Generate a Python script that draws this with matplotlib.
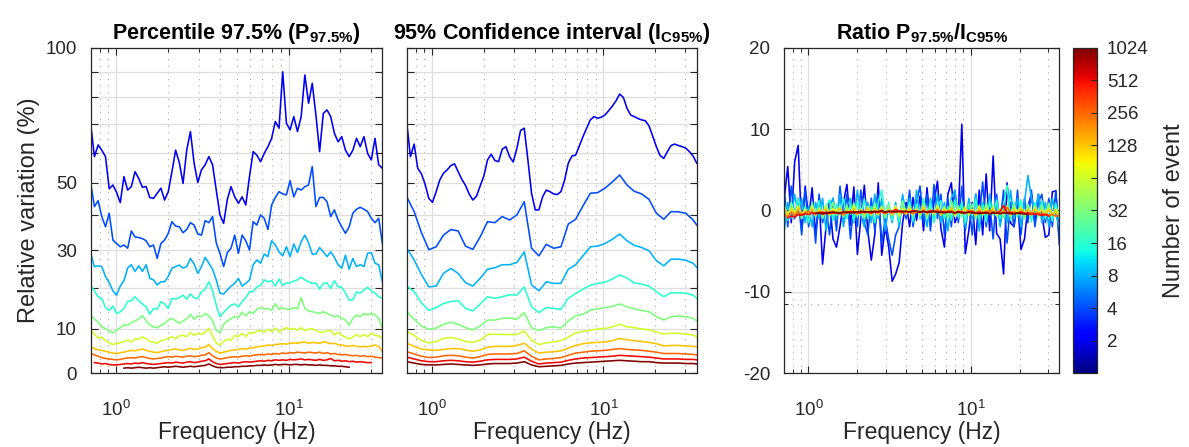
import numpy as np
import matplotlib
matplotlib.use('Agg')
import matplotlib.pyplot as plt
import matplotlib.colors as mcolors
import matplotlib.cm as cm
from matplotlib.ticker import FixedLocator, FixedFormatter, NullFormatter, LogLocator, NullLocator

plt.rcParams['font.family'] = ['Liberation Sans', 'DejaVu Sans']
plt.rcParams['mathtext.fontset'] = 'custom'
plt.rcParams['mathtext.rm'] = 'Liberation Sans'
plt.rcParams['mathtext.it'] = 'Liberation Sans:italic'
plt.rcParams['mathtext.bf'] = 'Liberation Sans:bold'

# ---------------- data ----------------
freq = [0.710, 0.746, 0.784, 0.823, 0.865, 0.909, 0.955, 1.003, 1.054, 1.107,
        1.163, 1.222, 1.284, 1.349, 1.417, 1.489, 1.564, 1.643, 1.726, 1.814,
        1.905, 2.002, 2.103, 2.209, 2.321, 2.439, 2.562, 2.692, 2.828, 2.971,
        3.121, 3.279, 3.445, 3.619, 3.802, 3.995, 4.197, 4.409, 4.632, 4.867,
        5.113, 5.372, 5.643, 5.929, 6.229, 6.544, 6.875, 7.223, 7.588, 7.972,
        8.375, 8.799, 9.244, 9.712, 10.20, 10.72, 11.26, 11.83, 12.43, 13.06,
        13.72, 14.41, 15.14, 15.91, 16.71, 17.56, 18.45, 19.38, 20.36, 21.39,
        22.47, 23.61, 24.80, 26.06, 27.38, 28.76, 30.22, 31.75, 33.35, 35.04]

events = [2, 4, 8, 16, 32, 64, 128, 256, 512, 1024]

# Percentile 97.5 % (relative variation, %)
p_2 = [70.0, 58.6, 62.6, 60.8, 58.6, 48.1, 49.3, 47.0, 43.8, 52.0,
       47.7, 48.8, 53.6, 51.4, 48.6, 48.8, 45.4, 45.1, 46.7, 48.3,
       44.6, 47.2, 53.6, 60.8, 56.6, 49.8, 60.8, 67.3, 56.4, 50.1,
       54.2, 55.9, 58.6, 55.9, 47.7, 40.1, 37.6, 44.8, 48.8, 45.6,
       43.6, 45.6, 43.1, 52.0, 60.3, 59.1, 56.9, 59.7, 62.0, 64.9,
       70.9, 68.5, 90.0, 70.3, 67.9, 72.7, 67.3, 72.7, 88.7, 77.7,
       85.4, 73.3, 60.3, 73.9, 75.2, 72.7, 66.7, 63.7, 65.5, 60.8,
       58.6, 60.8, 64.9, 62.0, 65.5, 59.7, 57.5, 64.9, 55.9, 54.7]
p_4 = [49.8, 42.6, 44.4, 39.6, 36.6, 40.6, 32.8, 31.8, 30.9, 31.4,
       30.5, 35.4, 33.7, 33.5, 33.2, 32.6, 30.9, 31.4, 27.7, 31.8,
       32.8, 34.7, 38.1, 36.8, 36.6, 34.9, 35.8, 37.8, 37.1, 34.5,
       34.2, 38.4, 37.8, 39.6, 32.0, 29.1, 25.5, 29.3, 30.5, 34.2,
       29.1, 34.2, 32.6, 30.0, 38.1, 37.1, 40.1, 39.1, 35.8, 43.1,
       45.4, 47.2, 46.5, 46.2, 50.7, 45.6, 48.3, 47.7, 48.8, 49.3,
       55.3, 42.6, 45.4, 45.4, 44.1, 39.6, 41.6, 38.6, 36.6, 34.7,
       36.6, 40.6, 41.8, 42.4, 41.8, 41.1, 39.1, 37.8, 39.1, 31.8]
p_8 = [29.1, 25.5, 25.7, 25.5, 22.9, 21.3, 19.2, 18.1, 20.4, 21.8,
       25.1, 26.0, 24.2, 25.7, 24.2, 26.0, 22.4, 22.0, 20.7, 21.5,
       21.5, 22.9, 25.1, 25.5, 25.9, 25.1, 25.5, 27.7, 26.2, 23.7,
       25.5, 28.0, 26.4, 24.8, 22.0, 18.6, 18.4, 19.4, 20.4, 21.1,
       22.4, 20.4, 21.1, 22.0, 26.0, 27.3, 26.4, 28.9, 28.2, 32.6,
       31.4, 29.5, 28.4, 30.9, 28.2, 31.7, 29.3, 32.3, 34.2, 32.0,
       28.9, 28.9, 30.7, 29.5, 28.2, 29.5, 28.0, 26.0, 25.1, 28.6,
       24.8, 27.7, 25.5, 26.0, 25.5, 29.1, 29.3, 26.4, 26.0, 21.5]
p_16 = [20.6, 19.2, 17.7, 17.3, 15.0, 14.3, 15.4, 13.6, 14.0, 14.8,
        16.5, 16.7, 17.7, 16.7, 15.9, 15.2, 13.4, 14.8, 14.6, 16.5,
        15.9, 14.8, 17.3, 17.1, 17.5, 18.1, 17.1, 18.4, 17.4, 17.3,
        18.9, 19.6, 21.5, 19.2, 15.6, 12.8, 13.8, 14.8, 15.6, 15.9,
        15.2, 16.5, 17.5, 19.0, 19.0, 20.2, 20.6, 22.0, 21.5, 21.8,
        20.4, 22.2, 20.6, 21.2, 21.2, 21.7, 22.0, 22.7, 22.0, 21.5,
        21.1, 21.2, 19.6, 21.1, 21.2, 19.8, 21.8, 20.2, 20.1, 18.6,
        16.9, 16.9, 18.9, 18.6, 19.4, 20.1, 19.2, 18.6, 17.7, 17.3]
p_32 = [13.2, 12.2, 11.5, 10.4, 10.0, 9.4, 9.0, 9.6, 10.2, 10.8,
        10.8, 11.4, 11.8, 12.2, 13.1, 11.8, 10.8, 10.4, 10.2, 10.7,
        11.2, 12.0, 12.4, 11.8, 11.2, 11.8, 12.3, 13.4, 12.2, 13.0,
        12.8, 13.6, 13.0, 11.8, 9.6, 9.0, 11.0, 11.8, 12.3, 12.8,
        12.6, 13.9, 13.0, 14.0, 13.6, 14.6, 15.0, 14.7, 14.8, 14.3,
        16.0, 14.6, 15.0, 14.6, 14.6, 15.0, 14.7, 17.5, 14.8, 14.2,
        14.0, 13.8, 13.6, 14.0, 13.6, 13.2, 12.8, 13.1, 12.4, 12.0,
        10.8, 12.4, 13.2, 12.8, 13.6, 13.2, 13.6, 13.2, 12.4, 10.0]
p_64 = [9.6, 8.7, 7.8, 8.0, 7.2, 6.7, 6.3, 6.6, 6.7, 7.0,
        7.3, 6.9, 7.6, 7.5, 8.1, 7.6, 7.0, 6.9, 6.6, 7.2,
        7.3, 7.8, 8.1, 7.6, 8.3, 8.4, 8.1, 9.1, 8.4, 8.9,
        8.6, 9.2, 10.0, 8.3, 6.7, 6.2, 7.0, 7.5, 7.3, 8.4,
        8.1, 8.9, 8.1, 9.1, 8.9, 9.4, 9.5, 9.2, 9.8, 9.3,
        10.1, 9.2, 9.8, 10.2, 9.8, 10.0, 9.6, 10.2, 9.5, 9.8,
        10.0, 9.5, 9.2, 9.1, 9.4, 9.6, 8.5, 9.1, 8.4, 8.0,
        7.6, 8.0, 8.6, 8.1, 8.6, 8.1, 8.9, 8.4, 8.3, 7.7]
p_128 = [5.8, 5.4, 5.1, 5.0, 4.8, 4.6, 4.4, 4.3, 4.5, 4.6,
         4.8, 5.0, 4.9, 5.1, 5.3, 5.0, 4.8, 4.6, 4.5, 4.7,
         4.9, 5.0, 5.2, 5.3, 5.1, 5.0, 5.2, 5.5, 5.2, 5.3,
         5.6, 5.7, 6.3, 5.4, 4.8, 4.4, 4.6, 4.8, 5.0, 5.1,
         5.2, 5.4, 5.3, 5.5, 5.6, 5.8, 5.9, 6.0, 6.2, 6.1,
         6.3, 6.4, 6.5, 6.4, 6.6, 6.7, 6.6, 6.8, 6.9, 6.6,
         6.8, 6.7, 6.6, 6.9, 6.8, 6.5, 6.6, 6.3, 6.2, 6.0,
         5.9, 6.1, 5.9, 5.8, 5.9, 5.8, 6.0, 6.2, 5.9, 4.8]
p_256 = [4.3, 4.0, 3.7, 3.4, 3.2, 3.1, 3.0, 2.9, 3.0, 3.2,
         3.3, 3.4, 3.3, 3.5, 3.6, 3.4, 3.2, 3.1, 3.2, 3.3,
         3.5, 3.6, 3.5, 3.7, 3.6, 3.5, 3.7, 3.8, 3.6, 3.7,
         3.9, 4.0, 4.5, 3.8, 3.3, 3.1, 3.2, 3.4, 3.5, 3.6,
         3.5, 3.7, 3.8, 3.7, 3.9, 4.0, 4.1, 4.0, 4.2, 4.1,
         4.3, 4.2, 4.4, 4.3, 4.5, 4.4, 4.6, 4.5, 4.4, 4.6,
         4.5, 4.4, 4.6, 4.3, 4.5, 4.2, 4.3, 4.1, 4.0, 4.1,
         3.9, 3.8, 3.9, 3.7, 3.8, 3.6, 3.7, 3.5, 3.4, 3.3]
p_512 = [2.3, 2.2, 2.0, 2.1, 1.9, 1.8, 1.8, 1.9, 2.0,
         2.1, 2.0, 2.2, 2.1, 2.3, 2.1, 2.0, 1.9, 2.0, 2.1,
         2.2, 2.3, 2.2, 2.4, 2.3, 2.2, 2.4, 2.5, 2.3, 2.4,
         2.6, 2.7, 3.1, 2.5, 2.1, 1.9, 2.0, 2.1, 2.2, 2.3,
         2.2, 2.4, 2.5, 2.4, 2.5, 2.6, 2.7, 2.6, 2.8, 2.7,
         2.9, 2.8, 2.9, 2.8, 3.0, 2.9, 3.0, 3.1, 2.9, 3.0,
         2.9, 2.8, 3.0, 2.8, 2.9, 3.2, 2.7, 2.8, 2.6, 2.7,
         2.5, 2.6, 2.4, 2.5, 2.4, 2.3, 2.3]
p_1024 = [1.1,
          1.2, 1.1, 1.2, 1.3, 1.2, 1.1, 1.2, 1.1, 1.2, 1.3,
          1.4, 1.3, 1.4, 1.5, 1.4, 1.3, 1.4, 1.5, 1.4, 1.5,
          1.6, 1.7, 2.0, 1.6, 1.3, 1.2, 1.2, 1.3, 1.3, 1.4,
          1.4, 1.5, 1.5, 1.6, 1.6, 1.7, 1.7, 1.8, 1.7, 1.8,
          1.9, 1.8, 1.9, 1.9, 1.8, 1.9, 1.9, 1.8, 1.9, 1.8,
          1.8, 1.7, 1.8, 1.7, 1.7, 1.6, 1.6, 1.5, 1.5, 1.4,
          1.3]
# first frequency index of each series (the two largest sets do not cover the whole band)
p_start = [0, 0, 0, 0, 0, 0, 0, 0, 1, 9]

# 95 % confidence interval (relative variation, %)
ic_2 = [70.5, 58.6, 62.9, 54.7, 52.9, 49.5, 45.1, 43.9, 47.2, 50.9,
        53.1, 54.2, 55.6, 56.2, 53.6, 51.1, 49.2, 46.5, 44.6, 45.8,
        49.0, 52.2, 57.5, 59.4, 57.3, 56.9, 61.1, 62.0, 58.6, 56.8,
        61.4, 67.7, 68.5, 57.5, 46.7, 41.6, 41.6, 45.6, 47.7, 47.2,
        46.5, 46.3, 47.2, 50.9, 56.4, 58.8, 59.1, 62.2, 65.5, 68.5,
        71.5, 72.7, 72.1, 72.5, 73.3, 74.9, 76.6, 78.6, 81.2, 79.9,
        75.8, 73.3, 72.7, 72.0, 71.5, 71.2, 69.3, 65.7, 62.0, 59.0,
        58.0, 60.3, 62.4, 62.9, 62.4, 62.0, 61.5, 60.3, 58.8, 56.4]
# the other intervals are read at every second frequency (plus the last one)
ic_idx = list(range(0, 80, 2)) + [79]
ic_4 = [45.6, 41.1, 34.9, 30.1, 30.9, 34.2, 35.8, 35.4, 31.1, 30.2,
        33.7, 38.1, 37.8, 39.6, 38.6, 40.1, 44.1, 30.5, 28.4, 31.6,
        30.5, 30.9, 37.4, 38.8, 42.8, 46.7, 46.9, 48.3, 50.3, 52.5,
        49.3, 47.3, 46.5, 44.8, 40.6, 38.8, 41.1, 41.0, 40.6, 38.6, 37.1]
ic_8 = [30.5, 27.3, 23.4, 20.2, 20.4, 23.7, 25.0, 23.7, 21.3, 20.4,
        22.4, 24.8, 25.2, 26.0, 26.0, 26.6, 29.5, 20.7, 19.2, 21.5,
        21.1, 21.1, 24.8, 26.0, 28.4, 30.9, 31.1, 31.8, 33.0, 34.5,
        32.6, 31.3, 30.7, 29.8, 27.1, 25.7, 27.5, 27.5, 27.2, 26.4, 25.3]
ic_16 = [20.4, 19.0, 16.2, 14.3, 15.0, 16.0, 16.5, 16.7, 14.8, 14.2,
         15.9, 17.7, 17.3, 17.7, 18.2, 18.1, 20.2, 15.2, 13.8, 15.0,
         14.8, 14.6, 17.3, 18.5, 19.6, 20.6, 21.1, 21.4, 22.2, 23.3,
         22.5, 21.2, 20.9, 20.4, 19.0, 17.7, 18.7, 18.7, 18.6, 18.1, 17.3]
ic_32 = [14.0, 12.2, 10.6, 9.8, 10.1, 11.0, 11.5, 11.0, 10.2, 9.7,
         10.6, 12.0, 12.0, 12.4, 12.5, 12.2, 13.8, 10.2, 9.5, 10.2,
         10.4, 10.1, 11.8, 13.0, 13.4, 14.4, 14.7, 15.0, 15.3, 15.9,
         15.2, 14.7, 14.3, 14.0, 12.8, 12.0, 12.8, 13.0, 12.8, 12.4, 11.8]
ic_64 = [9.3, 8.4, 7.2, 6.7, 7.0, 7.7, 7.9, 7.6, 7.0, 6.8,
         7.3, 8.6, 8.7, 8.6, 8.6, 8.6, 9.4, 7.3, 6.3, 6.7,
         6.9, 7.2, 8.0, 9.0, 9.3, 9.6, 9.9, 10.0, 10.4, 11.0,
         10.4, 10.2, 9.9, 9.7, 9.2, 8.7, 8.9, 8.9, 8.7, 8.5, 8.1]
ic_128 = [6.6, 5.9, 5.3, 5.1, 5.0, 5.2, 5.4, 5.4, 5.1, 4.8,
          5.1, 5.7, 5.9, 5.9, 5.9, 6.1, 6.6, 5.3, 4.4, 4.6,
          4.7, 4.9, 5.5, 6.1, 6.5, 6.7, 6.8, 6.9, 7.2, 7.7,
          7.4, 7.2, 7.0, 6.8, 6.5, 6.0, 6.1, 6.1, 6.0, 5.9, 5.8]
ic_256 = [4.7, 4.2, 3.7, 3.4, 3.5, 3.8, 3.9, 3.8, 3.5, 3.3,
          3.6, 4.1, 4.2, 4.2, 4.2, 4.3, 4.9, 3.7, 2.9, 3.1,
          3.2, 3.4, 3.9, 4.4, 4.6, 4.8, 4.9, 5.0, 5.2, 5.4,
          5.2, 5.1, 5.0, 4.8, 4.6, 4.3, 4.3, 4.3, 4.2, 4.1, 4.0]
ic_512 = [3.5, 3.1, 2.7, 2.5, 2.5, 2.7, 2.8, 2.7, 2.5, 2.4,
          2.6, 2.9, 3.0, 3.0, 3.0, 3.1, 3.5, 2.6, 2.0, 2.2,
          2.3, 2.4, 2.8, 3.1, 3.3, 3.4, 3.5, 3.6, 3.7, 3.9,
          3.8, 3.7, 3.6, 3.5, 3.3, 3.1, 3.1, 3.1, 3.0, 3.0, 2.9]
ic_1024 = [2.5, 2.2, 1.9, 1.8, 1.8, 1.9, 2.0, 1.9, 1.8, 1.7,
           1.8, 2.0, 2.1, 2.1, 2.1, 2.2, 2.5, 1.8, 1.4, 1.5,
           1.6, 1.7, 2.0, 2.2, 2.3, 2.4, 2.5, 2.6, 2.7, 2.8,
           2.7, 2.6, 2.5, 2.5, 2.3, 2.2, 2.2, 2.2, 2.1, 2.1, 2.0]

# Ratio P97.5 / IC95
r_2 = [1.5, 5.4, -1.5, 6.0, 8.0, -2.5, 3.0, -1.0, 2.8, -3.0,
       1.5, -6.6, -2.0, 1.2, -3.5, -4.5, -2.0, 1.0, 3.2, -1.8,
       2.9, -5.4, -1.0, 3.1, -2.5, -6.1, -3.0, 3.4, -5.5, -2.0,
       -4.5, -8.7, -7.8, -6.4, -1.5, 1.0, -2.0, 1.6, -1.2, 1.8,
       -2.5, 2.8, -1.8, 1.0, 3.6, -2.2, -4.5, 2.0, 3.4, -1.5,
       -0.5, 10.6, -5.3, -2.5, 1.0, -4.2, 2.5, -3.0, 4.5, -2.5,
       6.7, -2.8, -3.5, -7.8, 3.4, -1.5, -2.0, 1.5, -4.8, -3.5,
       0.5, 2.0, -1.5, 2.0, -0.5, -3.3, -3.0, 2.3, 2.4, -3.5]
r_4 = [2.5, -2.0, 3.0, -1.0, 1.5, -3.0, 2.5, -2.0, 1.0, -4.0,
       2.0, -1.5, 0.5, -3.0, 1.5, -2.5, 3.0, -1.0, 2.0, -3.5,
       1.0, -2.0, 2.5, -1.5, -3.0, 1.5, -2.5, 2.0, -4.0, -1.0,
       -3.5, -5.5, -3.0, -2.0, 1.5, -1.0, 2.5, -2.0, 1.0, 3.0,
       -1.5, 2.0, -2.5, 3.2, -1.0, 2.0, -3.0, 1.5, -2.0, 2.5,
       -1.5, 3.0, -2.5, 1.0, -3.0, 2.0, -1.0, 3.5, -2.0, 1.0,
       -3.5, 2.0, -1.5, 2.5, -4.0, 1.0, -2.0, 2.5, -3.0, 1.5,
       -1.5, 2.5, -2.0, 1.0, 2.0, -1.5, 1.5, -2.0, 2.5, -4.2]
r_8 = [-2.5, 1.0, -1.0, 2.0, -0.5, 1.5, -1.5, 0.5, -2.0, 1.0,
       -1.0, 1.5, -2.5, 0.5, 1.5, -1.0, 2.0, -2.0, 0.5, 1.5,
       -1.5, 2.5, -0.5, -2.0, 1.0, -1.5, 2.0, -1.0, 1.5, -2.5,
       0.5, -1.5, 1.0, -2.0, 2.0, -0.5, 1.5, -1.5, 2.5, -1.0,
       0.5, -2.0, 1.5, -1.0, 2.0, -1.5, 1.0, -2.5, 1.5, 2.5,
       -1.0, 0.5, -2.0, 1.5, -1.0, 2.0, -2.5, 1.0, -1.5, 2.0,
       -0.5, 1.5, -2.0, 0.5, -1.5, 2.5, -1.0, 1.5, -2.0, 1.0,
       4.3, 1.5, -0.5, 2.0, -1.5, 1.0, -2.0, 1.5, -0.5, -2.0]
r_16 = [0.8, -1.2, 1.0, -0.5, 1.5, -1.0, 0.5, -1.5, 1.0, -0.8,
        1.2, -1.0, 0.5, 1.3, -1.2, 0.8, -0.5, 1.5, -1.0, 0.7,
        -1.3, 1.0, -0.6, 1.4, -1.0, 0.5, -1.5, 1.0, 2.5, -0.8,
        1.0, -1.2, 0.6, -1.4, 1.2, -0.5, 1.0, -1.3, 0.8, -1.0,
        1.5, -0.7, 1.0, -1.5, 0.6, 1.2, -1.0, 0.5, -1.2, 1.3,
        -0.8, 1.0, -1.5, 0.8, -0.6, 1.4, -1.0, 0.7, -1.3, 1.0,
        -0.5, 1.2, -1.0, 0.6, 3.1, -1.2, 1.0, -0.8, 1.3, -1.0,
        0.8, -1.4, 1.0, -0.6, 1.2, -1.0, 0.5, -1.3, 0.9, -1.0]
r_32 = [0.5, -0.8, 0.9, -0.4, 0.6, -1.0, 0.3, -0.7, 0.8, -0.5,
        0.4, -0.9, 0.7, -0.3, 1.0, -0.6, 0.2, -0.8, 0.6, -0.4,
        0.9, -0.7, 0.3, -1.0, 0.5, -0.2, 0.8, -0.6, 0.4, -0.9,
        0.7, -0.5, 0.2, -0.8, 1.1, -0.3, 0.6, -0.7, 0.4, -0.5,
        0.9, -1.0, 0.3, -0.6, 0.7, -0.4, 0.5, -0.9, 1.2, -0.3,
        0.6, -0.8, 0.4, -0.5, 0.8, -1.0, 0.3, -0.6, 0.9, -0.4,
        0.5, -0.7, 0.2, -0.9, 0.6, -0.3, 0.8, -0.6, 0.4, -1.0,
        0.7, -0.5, 0.3, -0.8, 0.6, -0.4, 0.9, -0.7, 0.2, -0.6]
r_64 = [0.4, -0.6, 0.3, -0.2, 0.6, -0.5, 0.1, -0.4, 0.5, -0.6,
        0.2, -0.3, 0.5, -0.7, 0.3, -0.1, 0.4, -0.6, 0.2, -0.4,
        0.6, -0.3, 0.1, -0.5, 0.4, -0.6, 0.3, -0.2, 0.5, -0.5,
        0.2, -0.4, 0.6, -0.7, 0.3, -0.1, 0.4, -0.5, 0.2, -0.6,
        0.5, -0.3, 0.1, -0.4, 0.6, -0.5, 0.3, -0.2, 0.4, -0.7,
        0.2, -0.3, 0.5, -0.6, 0.1, -0.4, 0.6, -0.5, 0.3, -0.2,
        0.4, -0.6, 0.2, -0.3, 0.5, -0.7, 0.3, -0.1, 0.4, -0.5,
        0.2, -0.6, 0.5, -0.3, 0.1, -0.4, 0.3, -0.5, 0.2, -0.4]
r_128 = [0.2, -0.6, 0.0, -0.4, 0.3, -0.5, -0.1, -0.3, 0.2, -0.6,
         0.1, -0.4, 0.2, -0.5, 0.0, -0.3, 0.3, -0.6, -0.1, -0.2,
         0.2, -0.5, 0.1, -0.4, 0.3, -0.3, 0.0, -0.5, 0.2, -0.4,
         0.1, -0.6, 0.3, -0.2, 0.0, -0.5, 0.2, -0.3, 0.1, -0.4,
         0.4, -0.5, 0.0, -0.3, 0.2, -0.6, 0.1, -0.2, 0.3, -0.5,
         0.0, -0.4, 0.2, -0.3, 0.1, -0.6, 0.3, -0.2, 0.0, -0.5,
         0.2, -0.4, 0.1, -0.3, 0.5, -0.5, 0.0, -0.4, 0.2, -0.3,
         0.1, -0.5, 0.2, -0.4, 0.0, -0.6, 0.1, -0.5, -0.2, -0.7]
r_256 = [-0.5, -0.8, -0.3, -0.6, -0.2, -0.5, -0.3, -0.1, -0.4, -0.3,
         -0.2, -0.5, -0.3, -0.1, -0.4, -0.2, -0.3, -0.5, -0.1, -0.3,
         -0.2, -0.4, -0.1, -0.3, -0.2, -0.4, 0.0, -0.3, -0.2, -0.4,
         -0.1, -0.3, 0.1, -0.2, -0.3, -0.1, -0.2, -0.4, -0.1, -0.2,
         0.0, -0.3, -0.1, -0.2, 0.1, -0.3, -0.1, -0.2, 0.0, -0.3,
         -0.2, -0.1, -0.3, 0.0, -0.2, -0.4, -0.1, -0.3, -0.2, 0.0,
         -0.3, -0.2, -0.4, -0.1, 0.4, -0.3, -0.2, -0.4, -0.1, -0.3,
         -0.5, -0.2, -0.4, -0.3, -0.5, -0.4, -0.6, -0.5, -0.7, -0.6]
r_512 = [-0.9, -0.7, -0.8, -0.5, -0.6, -0.4, -0.5, -0.3, -0.4,
         -0.3, -0.2, -0.4, -0.3, -0.2, -0.3, -0.4, -0.2, -0.3, -0.1,
         -0.3, -0.2, -0.3, -0.1, -0.2, -0.3, -0.1, -0.2, 0.0, -0.2,
         -0.1, -0.2, 0.1, -0.1, -0.2, -0.1, -0.2, 0.0, -0.1, -0.2,
         -0.1, -0.2, 0.0, -0.1, -0.2, -0.1, -0.2, -0.1, -0.2, -0.3,
         -0.1, -0.2, -0.3, -0.2, -0.1, -0.3, -0.2, -0.3, -0.2, -0.4,
         -0.2, -0.3, -0.1, 0.6, -0.3, -0.2, -0.4, -0.3, -0.2, -0.4,
         -0.3, -0.5, -0.4, -0.5, -0.6, -0.5, -0.7]
r_1024 = [-0.3,
          -0.3, -0.4, -0.3, -0.3, -0.2, -0.3, -0.3, -0.2, -0.2, -0.3,
          -0.2, -0.2, -0.1, -0.2, -0.2, -0.1, -0.2, -0.1, -0.1, -0.2,
          -0.1, -0.1, -0.2, -0.1, -0.1, -0.1, -0.2, -0.1, -0.1, -0.2,
          -0.1, -0.2, -0.2, -0.1, -0.2, -0.2, -0.3, -0.2, -0.2, -0.3,
          -0.2, -0.3, -0.3, -0.2, -0.3, -0.3, -0.4, -0.3, -0.3, -0.4,
          -0.3, -0.3, -0.4, -0.3, -0.3, -0.4, -0.4, -0.3, -0.4, -0.4,
          -0.5]

pct_ticks = [0, 10, 20, 30, 40, 50, 60, 70, 80, 90, 100]
pct_labels = ['0', '10', '', '30', '', '50', '', '', '', '', '100']
ratio_ticks = [-20, -10, 0, 10, 20]
ratio_labels = ['-20', '-10', '0', '10', '20']

# ---------------- drawing ----------------
freq = np.array(freq)
P = [p_2, p_4, p_8, p_16, p_32, p_64, p_128, p_256, p_512, p_1024]
IC = [ic_2, ic_4, ic_8, ic_16, ic_32, ic_64, ic_128, ic_256, ic_512, ic_1024]
R = [r_2, r_4, r_8, r_16, r_32, r_64, r_128, r_256, r_512, r_1024]

cmap = plt.get_cmap('jet')
norm = mcolors.Normalize(vmin=0, vmax=10)
colors = [cmap(norm(np.log2(n))) for n in events]

TXT = '#262626'


def fwd(v):
    return np.log10(np.clip(np.asarray(v, dtype=float) + 100.0, 1e-6, None))


def inv(u):
    return 10.0 ** np.asarray(u, dtype=float) - 100.0


fig = plt.figure(figsize=(11.89, 4.47), dpi=100)
ax1 = fig.add_axes([0.0763, 0.1649, 0.2453, 0.7284])
ax2 = fig.add_axes([0.3421, 0.1649, 0.2439, 0.7284])
ax3 = fig.add_axes([0.6596, 0.1649, 0.2313, 0.7284])
cax = fig.add_axes([0.9022, 0.1649, 0.0207, 0.7284])

lw = 1.15
for k, n in enumerate(events):
    s = p_start[k]
    ax1.plot(freq[s:s + len(P[k])], P[k], color=colors[k], lw=lw)
    if k == 0:
        ax2.plot(freq, IC[k], color=colors[k], lw=lw)
    else:
        ax2.plot(freq[ic_idx], IC[k], color=colors[k], lw=lw)
    ax3.plot(freq[s:s + len(R[k])], R[k], color=colors[k], lw=lw)

for ax in (ax1, ax2, ax3):
    ax.set_xscale('log')
    ax.set_xlim(0.71, 35.04)
    ax.xaxis.set_major_locator(LogLocator(base=10))
    ax.xaxis.set_minor_locator(LogLocator(base=10, subs=np.arange(2, 10)))
    ax.xaxis.set_minor_formatter(NullFormatter())
    ax.set_axisbelow(True)
    ax.grid(True, which='major', color='#dedede', lw=0.9, ls='-')
    ax.grid(True, which='minor', color='#a8a8a8', lw=0.8, ls=(0, (1, 5)))
    ax.tick_params(which='both', direction='in', top=True, right=True,
                   colors=TXT, labelsize=13.5)
    ax.tick_params(which='major', length=5, width=0.8)
    ax.tick_params(which='minor', length=3, width=0.7)
    ax.tick_params(axis='y', pad=10)
    ax.tick_params(axis='x', pad=19)
    for sp in ax.spines.values():
        sp.set_color(TXT)
        sp.set_linewidth(0.9)
    ax.set_xlabel('Frequency (Hz)', fontsize=16.5, color=TXT, labelpad=1)

for ax in (ax1, ax2):
    ax.set_yscale('function', functions=(fwd, inv))
    ax.set_ylim(0, 100)
    ax.yaxis.set_major_locator(FixedLocator(pct_ticks))
    ax.yaxis.set_minor_locator(NullLocator())
    ax.grid(False, which='minor', axis='y')
ax1.yaxis.set_major_formatter(FixedFormatter(pct_labels))
ax2.yaxis.set_major_formatter(NullFormatter())
ax1.set_ylabel('Relative variation (%)', fontsize=17, color=TXT, labelpad=4)

ax3.set_ylim(-20, 20)
ax3.yaxis.set_major_locator(FixedLocator(ratio_ticks))
ax3.yaxis.set_major_formatter(FixedFormatter(ratio_labels))
ax3.yaxis.set_minor_locator(FixedLocator([-11.5]))

tkw = dict(fontsize=15.5, fontweight='bold', color='black', pad=6)
ax1.set_title(r'Percentile 97.5% (P$_{\mathbf{97.5\%}}$)', **tkw)
ax2.set_title(r'95% Confidence interval (I$_{\mathbf{C95\%}}$)', **tkw)
ax3.set_title(r'Ratio P$_{\mathbf{97.5\%}}$/I$_{\mathbf{C95\%}}$', **tkw)

sm = cm.ScalarMappable(norm=norm, cmap=cmap)
cb = fig.colorbar(sm, cax=cax)
cb.set_ticks(np.log2(events))
cb.set_ticklabels([str(n) for n in events])
cb.ax.tick_params(direction='in', length=4, width=0.8, labelsize=13.5, colors=TXT, pad=7)
cb.outline.set_edgecolor(TXT)
cb.outline.set_linewidth(0.9)
cb.set_label('Number of event', fontsize=17, color=TXT, labelpad=10)

fig.savefig('out.png', dpi=100)
